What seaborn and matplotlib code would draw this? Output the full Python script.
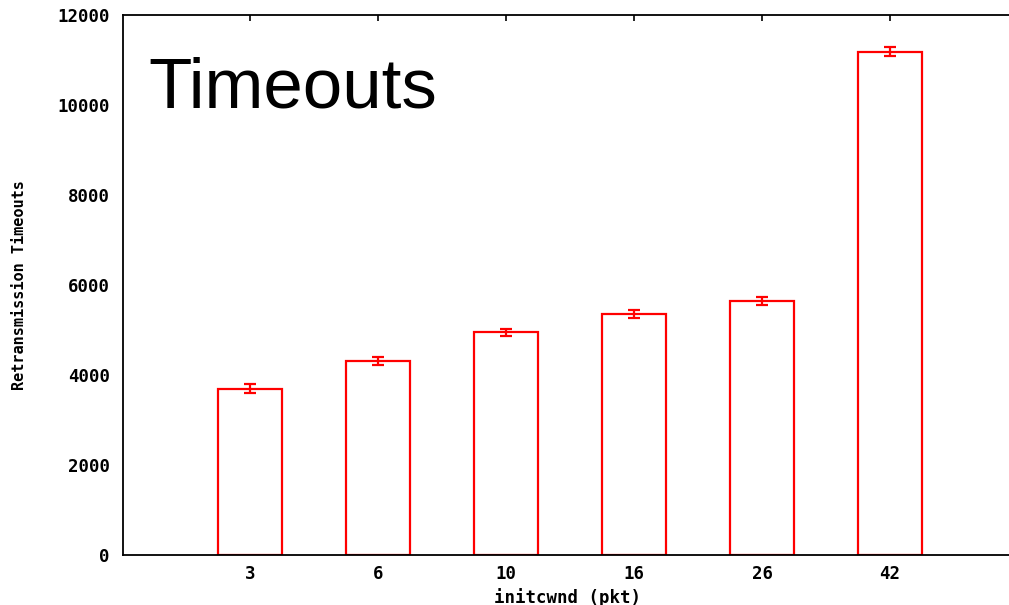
import matplotlib
matplotlib.use("Agg")
import matplotlib.pyplot as plt
import seaborn as sns
import pandas as pd

# Retransmission timeouts per initial congestion window size
initcwnd = ["3", "6", "10", "16", "26", "42"]
timeouts = [3690, 4310, 4950, 5350, 5650, 11185]
errors = [100, 85, 80, 90, 90, 100]
yticks = [0, 2000, 4000, 6000, 8000, 10000, 12000]

sns.set_theme(style="white")
plt.rcParams["font.family"] = ["DejaVu Sans Mono"]

df = pd.DataFrame({"initcwnd": initcwnd, "timeouts": timeouts})

fig = plt.figure(figsize=(10.09, 6.05), dpi=100)
ax = fig.add_axes([122.5 / 1009, 50 / 605, 895.5 / 1009, 540 / 605])

sns.barplot(data=df, x="initcwnd", y="timeouts", order=initcwnd,
            fill=False, color="#ff0000", linewidth=1.6, width=0.5,
            errorbar=None, ax=ax)
ax.errorbar(range(len(initcwnd)), timeouts, yerr=errors, fmt="none",
            ecolor="#ff0000", elinewidth=1.6, capsize=4.5, capthick=1.6)

ax.set_xlim(-1, 6)
ax.set_ylim(0, 12000)
ax.set_yticks(yticks)
ax.set_yticklabels([str(v) for v in yticks])

for s in ax.spines.values():
    s.set_color("black")
    s.set_linewidth(1.3)
    s.set_visible(True)

ax.tick_params(axis="both", direction="in", top=True, right=True,
               length=4, width=1.2, color="black", labelsize=12.5)
ax.tick_params(axis="y", pad=9)
ax.tick_params(axis="x", pad=7)
for lbl in ax.get_xticklabels() + ax.get_yticklabels():
    lbl.set_fontweight("bold")
    lbl.set_color("black")

ax.set_xlabel("initcwnd (pkt)", fontsize=12.5, fontweight="bold", color="black")
ax.xaxis.set_label_coords((568 - 122.5) / 895.5, (555 - 588) / 540)
ax.set_ylabel("Retransmission Timeouts", fontsize=11, fontweight="bold",
              color="black")
ax.yaxis.set_label_coords((20 - 122.5) / 895.5, (555 - 285) / 540)
ax.yaxis.label.set_va("center")

ax.text(148 / 1009, 1 - 108 / 605, "Timeouts", transform=fig.transFigure,
        fontsize=51, family="Liberation Sans", color="black",
        ha="left", va="baseline")

fig.savefig("out.png", dpi=100)
